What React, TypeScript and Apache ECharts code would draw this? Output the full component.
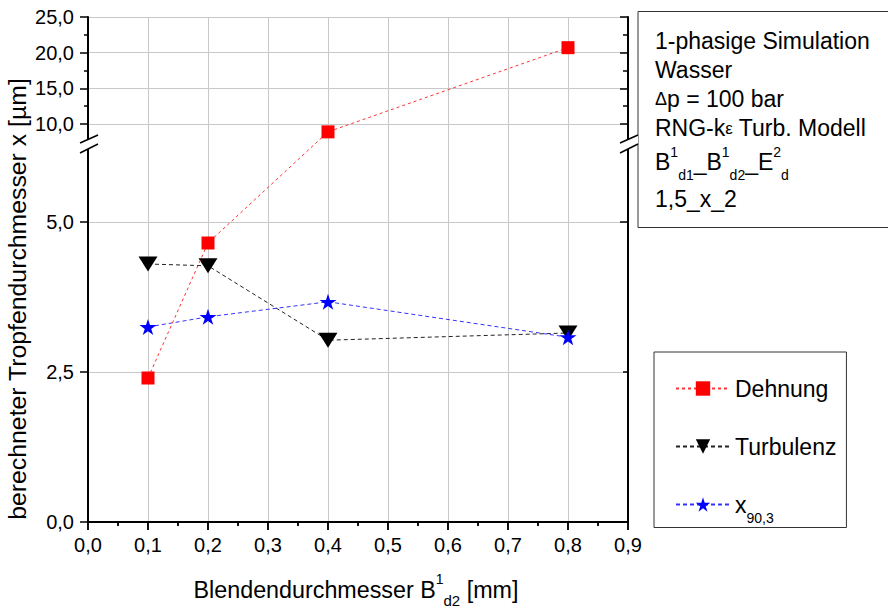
import React, { useEffect, useRef } from 'react';
import * as echarts from 'echarts';

// ---------- data ----------
const xValues = [0.1, 0.2, 0.4, 0.8];
const dehnung = [2.4, 4.65, 8.9, 20.7];
const turbulenz = [4.3, 4.27, 3.03, 3.15];
const x903 = [3.25, 3.42, 3.67, 3.08];
const seriesNames = ['Dehnung', 'Turbulenz', 'x90,3'];

const xTickMin = 0;
const xTickMax = 0.9;
const xTickStep = 0.1;
const yTickValues = [0, 2.5, 5, 10, 15, 20, 25];
const yMinorLeft = [12.5, 17.5, 22.5];
const yMajorRight = [0, 5, 10, 15, 20, 25];
const yMinorRight = [2.5, 12.5, 17.5, 22.5];

const xTitle = 'Blendendurchmesser B{sup|1}{sub|d2} [mm]';
const yTitle = 'berechneter Tropfendurchmesser x [µm]';
const infoLines = [
  '1-phasige Simulation',
  'Wasser',
  '{d|Δ}p = 100 bar',
  'RNG-k{e|ε} Turb. Modell',
  'B{sup|1}{sub|d1}_B{sup|1}{sub|d2}_E{sup|2}{sub|d}',
  '1,5_x_2',
];

// ---------- broken axis (lower 0..~6.4 linear, upper 10..25 compressed) ----------
const LOWER_TOP = 6.4;
const UPPER_REF = 10;
const UPPER_REF_POS = 6.6333;
const UPPER_SCALE = 0.11889;
const toAxis = (v: number) => (v <= LOWER_TOP ? v : UPPER_REF_POS + (v - UPPER_REF) * UPPER_SCALE);
const fromAxis = (d: number) => (d < 6.5 ? d : UPPER_REF + (d - UPPER_REF_POS) / UPPER_SCALE);
const Y_MAX = toAxis(25);

const fmt = (v: number) => (Math.round(v * 10) / 10).toFixed(1).replace('.', ',');

const FONT = "'Liberation Sans', Arial, sans-serif";
const STAR = 'path://M50 0 L61.23 34.55 L97.55 34.55 L68.17 55.9 L79.39 90.45 L50 69.1 L20.61 90.45 L31.83 55.9 L2.45 34.55 L38.77 34.55 Z';

export default function App() {
  const ref = useRef<HTMLDivElement>(null);
  useEffect(() => {
    const chart = echarts.init(ref.current!, null, { renderer: 'svg' });

    const axisLine = { show: true, lineStyle: { color: '#000', width: 2 } };
    const tickStyle = { color: '#000', width: 1.5 };

    const yBase = {
      type: 'value',
      min: 0,
      max: Y_MAX,
      axisLine,
      splitLine: { show: false },
      axisLabel: { show: false },
    };

    const infoGraphics = infoLines.map((t, i) => ({
      type: 'text',
      x: 655,
      y: [41, 70, 99, 128, 162, 199][i],
      z: 100,
      style: {
        text: t,
        fill: '#000',
        fontSize: 23,
        fontFamily: FONT,
        lineHeight: 40,
        align: 'left',
        verticalAlign: 'middle',
        rich: {
          d: { fontSize: 18, fontFamily: FONT, fill: '#000' },
          e: { fontSize: 17, fontFamily: FONT, fill: '#000' },
          sup: { fontSize: 14, lineHeight: 14, verticalAlign: 'top', padding: [3, 0, 0, 0], fontFamily: FONT, fill: '#000' },
          sub: { fontSize: 14, lineHeight: 14, verticalAlign: 'bottom', fontFamily: FONT, fill: '#000' },
        },
      },
    }));

    const breakMarks = [0, 540].flatMap((dx) => [
      {
        type: 'polygon',
        z: 100,
        shape: { points: [[80 + dx, 143], [98 + dx, 135], [98 + dx, 144], [80 + dx, 153]] },
        style: { fill: '#fff', stroke: 'none' },
      },
      { type: 'line', z: 101, shape: { x1: 80 + dx, y1: 143, x2: 98 + dx, y2: 135 }, style: { stroke: '#000', lineWidth: 1.5 } },
      { type: 'line', z: 101, shape: { x1: 80 + dx, y1: 153, x2: 98 + dx, y2: 144 }, style: { stroke: '#000', lineWidth: 1.5 } },
    ]);

    const option = {
      animation: false,
      backgroundColor: '#fff',
      textStyle: { fontFamily: FONT },
      grid: { left: 88, right: 260, top: 17, bottom: 94, containLabel: false },
      xAxis: [
        {
          type: 'value',
          position: 'bottom',
          min: xTickMin,
          max: xTickMax,
          interval: xTickStep,
          axisLine,
          axisTick: { show: true, length: 8, lineStyle: tickStyle },
          minorTick: { show: true, splitNumber: 2, length: 4, lineStyle: tickStyle },
          splitLine: { show: true, lineStyle: { color: '#c8c8c8', width: 1 } },
          axisLabel: { fontSize: 20, color: '#000', margin: 13, formatter: (v: number) => fmt(v) },
        },
        {
          type: 'value',
          position: 'top',
          min: xTickMin,
          max: xTickMax,
          interval: xTickStep,
          axisLine,
          axisTick: { show: true, inside: true, length: 8, lineStyle: tickStyle },
          minorTick: { show: true, splitNumber: 2, length: 4, lineStyle: tickStyle },
          splitLine: { show: false },
          axisLabel: { show: false },
        },
      ],
      yAxis: [
        {
          ...yBase,
          position: 'left',
          splitLine: { show: true, lineStyle: { color: '#c8c8c8', width: 1 } },
          axisTick: { show: true, length: 8, lineStyle: tickStyle, customValues: yTickValues.map(toAxis) },
          axisLabel: {
            show: true,
            fontSize: 20,
            color: '#000',
            margin: 14,
            customValues: yTickValues.map(toAxis),
            formatter: (d: number) => fmt(fromAxis(d)),
          },
        },
        {
          ...yBase,
          position: 'left',
          axisLine: { show: false },
          axisTick: { show: true, length: 4, lineStyle: tickStyle, customValues: yMinorLeft.map(toAxis) },
        },
        {
          ...yBase,
          position: 'right',
          axisTick: { show: true, inside: true, length: 8, lineStyle: tickStyle, customValues: yMajorRight.map(toAxis) },
        },
        {
          ...yBase,
          position: 'right',
          axisLine: { show: false },
          axisTick: { show: true, inside: true, length: 5, lineStyle: tickStyle, customValues: yMinorRight.map(toAxis) },
        },
      ],
      legend: {
        orient: 'vertical',
        left: 654,
        top: 352,
        padding: [25, 10, 3, 21],
        itemGap: 35,
        itemWidth: 54,
        itemHeight: 18,
        borderColor: '#333',
        borderWidth: 1,
        backgroundColor: '#fff',
        data: seriesNames,
        formatter: (name: string) => (name === 'x90,3' ? '{m|x}{s|90,3}' : '{m|' + name + '}'),
        textStyle: {
          color: '#000',
          fontSize: 23,
          fontFamily: FONT,
          rich: {
            m: { fontSize: 23, lineHeight: 40, fontFamily: FONT, color: '#000' },
            s: { fontSize: 14, lineHeight: 14, verticalAlign: 'bottom', fontFamily: FONT, color: '#000' },
          },
        },
      },
      series: [
        {
          name: seriesNames[0],
          type: 'line',
          data: xValues.map((x, i) => [x, toAxis(dehnung[i])]),
          symbol: 'rect',
          symbolSize: 13,
          itemStyle: { color: '#ff0000' },
          lineStyle: { color: '#ff3333', width: 1, type: [3, 3] },
          z: 3,
        },
        {
          name: seriesNames[1],
          type: 'line',
          data: xValues.map((x, i) => [x, toAxis(turbulenz[i])]),
          symbol: 'triangle',
          symbolRotate: 180,
          symbolSize: [19, 15],
          itemStyle: { color: '#000' },
          lineStyle: { color: '#222', width: 1, type: [4, 3] },
          z: 2,
        },
        {
          name: seriesNames[2],
          type: 'line',
          data: xValues.map((x, i) => [x, toAxis(x903[i])]),
          symbol: STAR,
          symbolSize: [17, 16],
          itemStyle: { color: '#0000ff' },
          lineStyle: { color: '#3333ff', width: 1, type: [4, 3] },
          z: 2,
        },
      ],
      graphic: [
        ...breakMarks,
        {
          type: 'rect',
          z: 90,
          shape: { x: 638, y: 11.5, width: 260, height: 216 },
          style: { fill: '#fff', stroke: '#333', lineWidth: 1 },
        },
        ...infoGraphics,
        {
          type: 'text',
          x: 356,
          y: 590,
          z: 100,
          style: {
            text: xTitle,
            fill: '#000',
            fontSize: 23.3,
            fontFamily: FONT,
            lineHeight: 36,
            align: 'center',
            verticalAlign: 'middle',
            rich: {
              sup: { fontSize: 14, lineHeight: 14, verticalAlign: 'top', fontFamily: FONT, fill: '#000' },
              sub: { fontSize: 15, lineHeight: 15, verticalAlign: 'bottom', fontFamily: FONT, fill: '#000' },
            },
          },
        },
        {
          type: 'text',
          x: 17,
          y: 299,
          rotation: Math.PI / 2,
          z: 100,
          style: {
            text: yTitle,
            fill: '#000',
            fontSize: 24.8,
            fontFamily: FONT,
            align: 'center',
            verticalAlign: 'middle',
          },
        },
      ],
    };

    chart.setOption(option as any);
    return () => chart.dispose();
  }, []);
  return <div ref={ref} style={{ position: 'absolute', left: 0, top: 0, width: 888, height: 616 }} />;
}
